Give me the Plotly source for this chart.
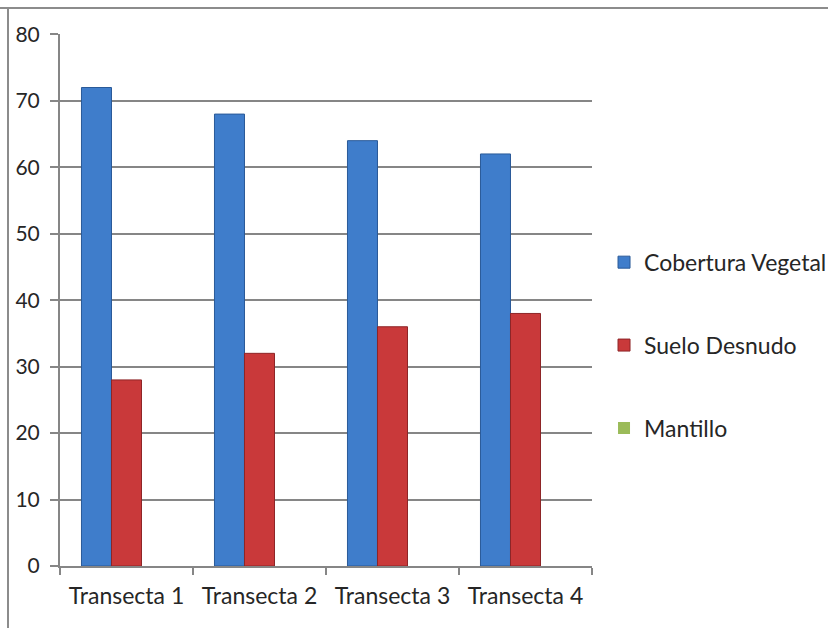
import plotly.graph_objects as go

categories = ["Transecta 1", "Transecta 2", "Transecta 3", "Transecta 4"]
cobertura = [72, 68, 64, 62]
suelo = [28, 32, 36, 38]
mantillo = [0, 0, 0, 0]
y_ticks = [0, 10, 20, 30, 40, 50, 60, 70, 80]

FONT = "Lato, 'Open Sans', sans-serif"
GRID = "#868686"

fig = go.Figure()
series = [
    ("Cobertura Vegetal", cobertura, "#3f7dcb", "#2a5a98", 1),
    ("Suelo Desnudo", suelo, "#c9393a", "#8e2527", 1),
    ("Mantillo", mantillo, "#9bbb59", "#6f8a3a", 0),
]
for i, (name, vals, col, line, lw) in enumerate(series):
    fig.add_trace(go.Bar(
        x=categories, y=vals, name=name,
        marker=dict(color=col, line=dict(color=line, width=lw)),
        legendgroup=f"g{i}",
    ))

fig.update_layout(
    width=828, height=628,
    margin=dict(l=60, r=236, t=34, b=62, autoexpand=False),
    paper_bgcolor="white", plot_bgcolor="white",
    barmode="group", bargap=0.323, bargroupgap=0,
    font=dict(family=FONT, color="#262626"),
    showlegend=True,
    legend=dict(
        x=1.0226, y=0.415, xanchor="left", yanchor="middle",
        font=dict(size=23, family=FONT, color="#262626"),
        tracegroupgap=50, itemwidth=30,
        bgcolor="rgba(0,0,0,0)",
    ),
    xaxis=dict(
        showline=True, linecolor=GRID, linewidth=2,
        ticks="outside", ticklen=7, tickcolor=GRID, tickwidth=2,
        tickson="boundaries", ticklabelstandoff=8,
        tickfont=dict(size=23, family=FONT, color="#262626"),
        showgrid=False, automargin=False,
    ),
    yaxis=dict(
        range=[0, 80.05], tickvals=y_ticks,
        showline=True, linecolor=GRID, linewidth=2,
        ticks="outside", ticklen=8, tickcolor=GRID, tickwidth=2,
        ticklabelstandoff=6,
        showgrid=True, gridcolor=GRID, gridwidth=2,
        tickfont=dict(size=21, family=FONT, color="#262626"),
        zeroline=False, automargin=False,
    ),
    shapes=[
        dict(type="line", xref="paper", yref="paper",
             x0=-60/532, x1=(828-60)/532, y0=(566-8)/532, y1=(566-8)/532,
             line=dict(color="#8c8c8c", width=2)),
        dict(type="line", xref="paper", yref="paper",
             x0=-52/532, x1=-52/532, y0=(566-8)/532, y1=-62/532,
             line=dict(color="#8c8c8c", width=2)),
    ],
)

fig.write_html("out.html")
